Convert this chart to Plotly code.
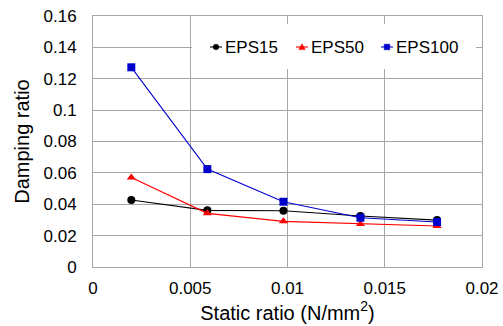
import plotly.graph_objects as go

# Static ratio (N/mm^2) at each loading step
static_ratio = [0.00197, 0.00588, 0.00979, 0.01375, 0.01769]

# Damping ratio for each EPS grade
eps15 = [0.0427, 0.0361, 0.0359, 0.0325, 0.0299]
eps50 = [0.0571, 0.0342, 0.0291, 0.0274, 0.0261]
eps100 = [0.1273, 0.0624, 0.0416, 0.0314, 0.0287]

series_names = ["EPS15", "EPS50", "EPS100"]
series_values = [eps15, eps50, eps100]
series_colors = ["black", "red", "#0000cc"]
series_symbols = ["circle", "triangle-up", "square"]

W, H = 503, 326
M = dict(l=93, r=21, t=16, b=59)
PW = W - M["l"] - M["r"]
PH = H - M["t"] - M["b"]


def px_x(x):
    return (x - M["l"]) / PW


def px_y(y):
    return (H - M["b"] - y) / PH


fig = go.Figure()
for name, vals, color, symbol in zip(series_names, series_values,
                                     series_colors, series_symbols):
    fig.add_trace(go.Scatter(
        x=static_ratio, y=vals, name=name, mode="lines+markers",
        line=dict(color=color, width=1.1),
        marker=dict(color=color, symbol=symbol, size=8),
        showlegend=False,
    ))

# Inline key: white panel, short line glyph with marker, and label
shapes = [dict(type="rect", xref="paper", yref="paper", layer="above",
               x0=px_x(192), x1=px_x(476), y0=px_y(69), y1=px_y(24),
               fillcolor="white", line=dict(width=0))]
annotations = []
key_centres = [216, 302, 387]
key_y = 47
for name, color, symbol, cx in zip(series_names, series_colors,
                                   series_symbols, key_centres):
    shapes.append(dict(type="line", xref="paper", yref="paper", layer="above",
                       x0=px_x(cx - 6), x1=px_x(cx + 6),
                       y0=px_y(key_y), y1=px_y(key_y),
                       line=dict(color=color, width=1.1)))
    r = 2.8
    if symbol == "circle":
        shapes.append(dict(type="circle", xref="paper", yref="paper",
                           layer="above", x0=px_x(cx - r), x1=px_x(cx + r),
                           y0=px_y(key_y + r), y1=px_y(key_y - r),
                           fillcolor=color, line=dict(color=color, width=0.5)))
    elif symbol == "square":
        shapes.append(dict(type="rect", xref="paper", yref="paper",
                           layer="above", x0=px_x(cx - r), x1=px_x(cx + r),
                           y0=px_y(key_y + r), y1=px_y(key_y - r),
                           fillcolor=color, line=dict(color=color, width=0.5)))
    else:
        path = "M {} {} L {} {} L {} {} Z".format(
            px_x(cx - 3.2), px_y(key_y + 2.6),
            px_x(cx + 3.2), px_y(key_y + 2.6),
            px_x(cx), px_y(key_y - 3.2))
        shapes.append(dict(type="path", xref="paper", yref="paper",
                           layer="above", path=path, fillcolor=color,
                           line=dict(color=color, width=0.5)))
    annotations.append(dict(text=name, xref="paper", yref="paper",
                            x=px_x(cx + 7), y=px_y(key_y), xanchor="left",
                            yanchor="middle", showarrow=False,
                            font=dict(size=17, color="black")))

grid = "#a6a6a6"
clear = "rgba(0,0,0,0)"
font = "Liberation Sans, Arial, sans-serif"
fig.update_layout(
    width=W, height=H,
    margin=M,
    paper_bgcolor="white", plot_bgcolor="white",
    font=dict(family=font, size=17, color="black"),
    showlegend=False,
    shapes=shapes,
    annotations=annotations,
    xaxis=dict(
        range=[0, 0.02], dtick=0.005, tickformat="~g",
        showgrid=True, gridcolor=grid, gridwidth=1,
        showline=True, linecolor=grid, mirror=True, zeroline=False,
        ticks="outside", ticklen=6, tickcolor=clear, automargin=False,
        title=dict(text="Static ratio (N/mm<sup>2</sup>)", standoff=4),
    ),
    yaxis=dict(
        range=[0, 0.16], dtick=0.02, tickformat="~g",
        showgrid=True, gridcolor=grid, gridwidth=1,
        showline=True, linecolor=grid, mirror=True, zeroline=False,
        ticks="outside", ticklen=12, tickcolor=clear, automargin=False,
        title=dict(text="Damping ratio", standoff=8),
    ),
)

fig.write_html("out.html")
